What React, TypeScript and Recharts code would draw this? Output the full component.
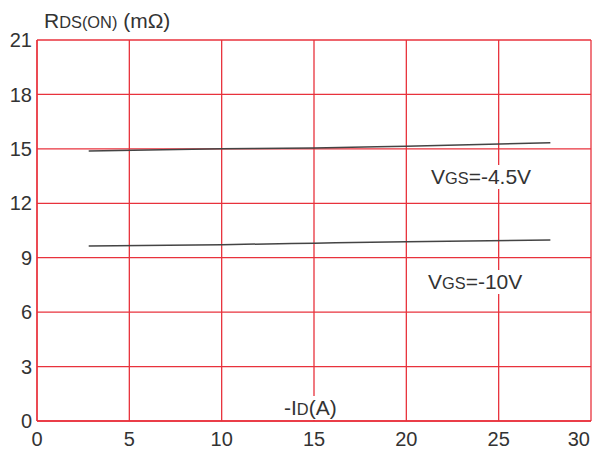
import { CartesianGrid, Line, LineChart, XAxis, YAxis } from "recharts";

// -ID (A) vs RDS(ON) (mΩ)
const current = [2.8, 10, 15, 20, 27.8];
const rdsVgs45 = [14.88, 15.0, 15.05, 15.15, 15.33];
const rdsVgs10 = [9.64, 9.72, 9.8, 9.88, 9.97];

const xTicks = [0, 5, 10, 15, 20, 25, 30];
const yTicks = [0, 3, 6, 9, 12, 15, 18, 21];

const vgs45 = current.map((id, i) => ({ id, r: rdsVgs45[i] }));
const vgs10 = current.map((id, i) => ({ id, r: rdsVgs10[i] }));

const font = "'Liberation Sans', Arial, sans-serif";
const ink = "#333";
const grid = "#e8323c";

function Sub({ main, sub, rest }: { main: string; sub: string; rest: string }) {
  return (
    <span>
      {main}
      <span style={{ fontSize: "0.78em" }}>{sub}</span>
      {rest}
    </span>
  );
}

function XTick(props: any) {
  const { x, y, payload } = props;
  const last = payload.value === 30;
  return (
    <text
      x={last ? x - 1 : x}
      y={y}
      dy={15}
      textAnchor={last ? "end" : "middle"}
      fill={ink}
      fontSize={20}
      fontFamily={font}
    >
      {payload.value}
    </text>
  );
}

export default function App() {
  return (
    <div style={{ position: "absolute", left: 0, top: 0, width: 593, height: 454, background: "#fff", fontFamily: font }}>
      <LineChart width={593} height={454} margin={{ top: 40, right: 2, left: 0, bottom: 0 }}>
        <CartesianGrid stroke={grid} strokeWidth={1.3} horizontalValues={yTicks} verticalValues={xTicks} />
        <XAxis
          type="number"
          dataKey="id"
          domain={[0, 30]}
          ticks={xTicks}
          height={33}
          axisLine={{ stroke: grid, strokeWidth: 1.3 }}
          tickLine={false}
          tickSize={0}
          tickMargin={10}
          tick={<XTick />}
          interval={0}
        />
        <YAxis
          type="number"
          domain={[0, 21]}
          ticks={yTicks}
          width={37}
          axisLine={{ stroke: grid, strokeWidth: 1.3 }}
          tickLine={false}
          tickSize={0}
          tickMargin={5}
          tick={{ fill: ink, fontSize: 20, fontFamily: font }}
          interval={0}
        />
        <Line data={vgs45} dataKey="r" type="monotone" stroke="#444" strokeWidth={1.5} dot={false} isAnimationActive={false} />
        <Line data={vgs10} dataKey="r" type="monotone" stroke="#444" strokeWidth={1.5} dot={false} isAnimationActive={false} />
      </LineChart>
      <div style={{ position: "absolute", left: 44, top: 9, fontSize: 21, color: ink, whiteSpace: "nowrap" }}>
        <Sub main="R" sub="DS(ON)" rest=" (mΩ)" />
      </div>
      <div style={{ position: "absolute", left: 431, top: 165, fontSize: 21, color: ink, whiteSpace: "nowrap", background: "#fff" }}>
        <Sub main="V" sub="GS" rest="=-4.5V" />
      </div>
      <div style={{ position: "absolute", left: 428, top: 270, fontSize: 21, color: ink, whiteSpace: "nowrap", background: "#fff" }}>
        <Sub main="V" sub="GS" rest="=-10V" />
      </div>
      <div style={{ position: "absolute", left: 284, top: 396, fontSize: 21, color: ink, whiteSpace: "nowrap", background: "#fff" }}>
        <Sub main="-I" sub="D" rest="(A)" />
      </div>
    </div>
  );
}
